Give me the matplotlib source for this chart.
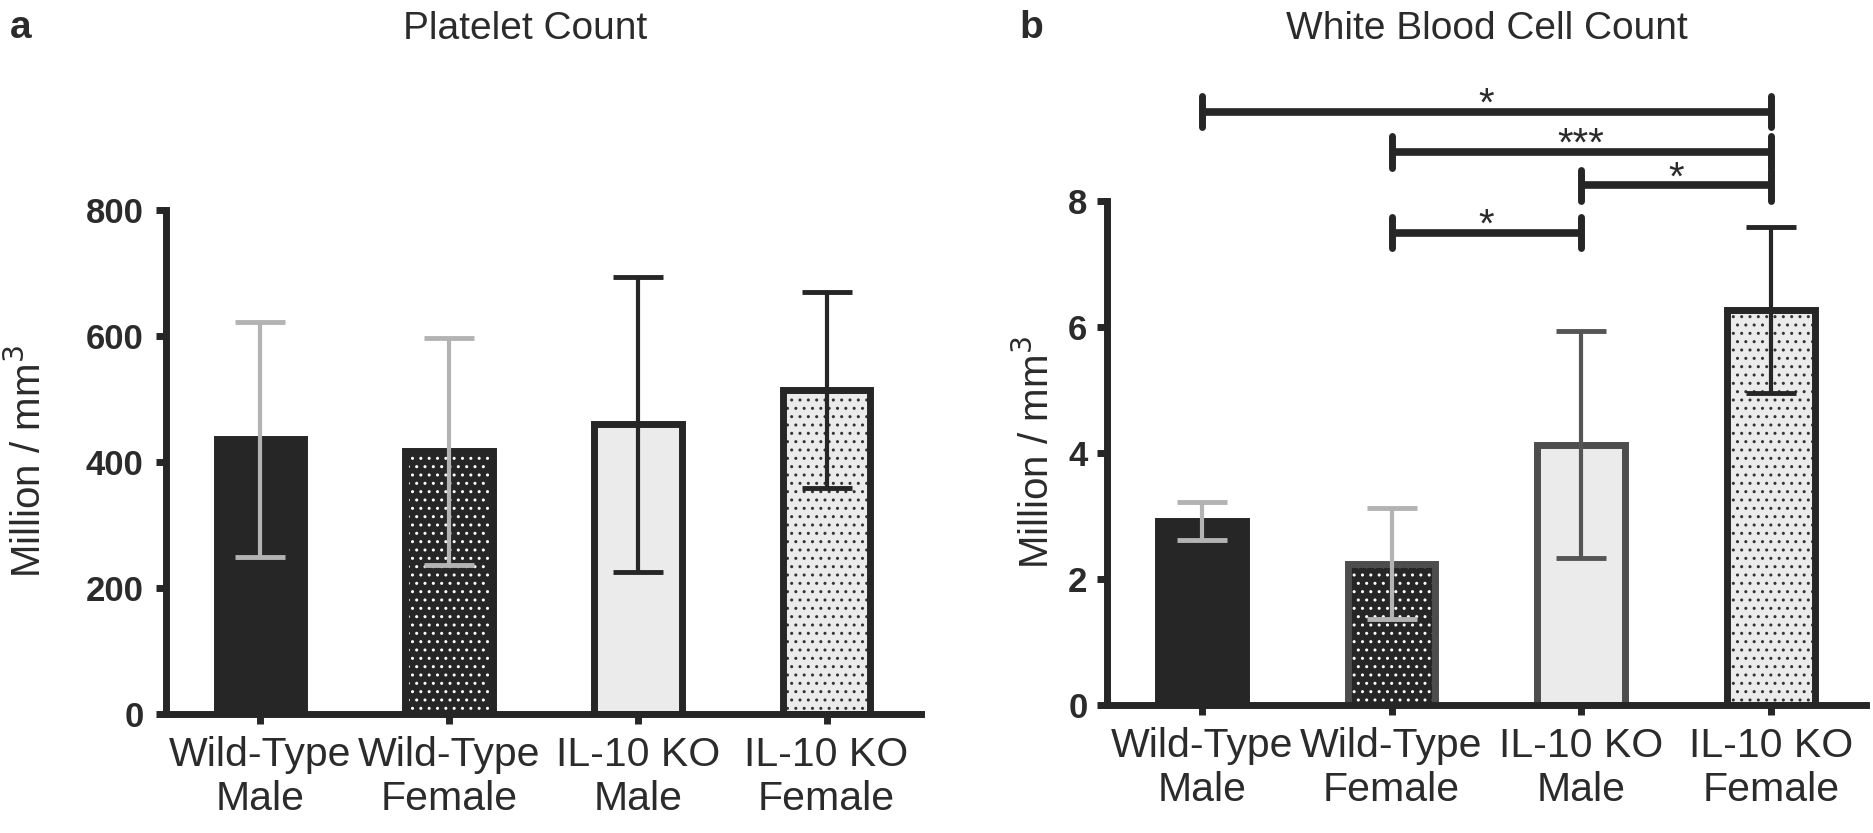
import numpy as np
import matplotlib
matplotlib.use("Agg")
import matplotlib.pyplot as plt

plt.rcParams.update({"font.family": "Liberation Sans", "hatch.linewidth": 1.0,
                     "text.color": "#2b2b2b", "axes.labelcolor": "#2b2b2b"})
INK = "#262626"

# data (mean +/- SD)
groups = ["Wild-Type\nMale", "Wild-Type\nFemale", "IL-10 KO\nMale", "IL-10 KO\nFemale"]
plt_mean = [436, 417, 460, 514]
plt_sd = [187, 180, 234, 156]
wbc_mean = [2.92, 2.24, 4.13, 6.27]
wbc_sd = [0.30, 0.88, 1.80, 1.32]
sig_pairs = [(0, 3), (1, 3), (2, 3), (1, 2)]
sig_y = [9.42, 8.78, 8.25, 7.50]
sig_text = ["*", "***", "*", "*"]

# bar styling (fill, hatch colour, hatch)
fills = [INK, INK, "#ebebeb", "#ebebeb"]
hatch_cols = [INK, "white", "#ebebeb", "#333333"]
hatches = [None, "..", None, ".."]
edges_a = [INK, INK, INK, INK]
edges_b = [INK, "#4d4d4d", "#4d4d4d", INK]
err_a = ["#b3b3b3", "#b3b3b3", INK, INK]
err_b = ["#b3b3b3", "#b3b3b3", "#555555", INK]

fig = plt.figure(figsize=(18.73, 8.33), dpi=100)
axA = fig.add_axes([0.0886, 0.1429, 0.4031, 0.605])
axB = fig.add_axes([0.5910, 0.1537, 0.4052, 0.605])
x = np.arange(len(groups))
W = 0.463


def draw(ax, mean, sd, edges, errc):
    for i in range(len(x)):
        ax.bar(x[i], mean[i], W, color=fills[i], edgecolor=hatch_cols[i],
               linewidth=0, hatch=hatches[i], zorder=1)
        ax.bar(x[i], mean[i], W, facecolor="none", edgecolor=edges[i],
               linewidth=5, zorder=2)
        ax.errorbar(x[i], mean[i], yerr=sd[i], fmt="none", ecolor=errc[i],
                    elinewidth=3, capsize=18, capthick=3.5, zorder=3)
    ax.set_xlim(-0.5, 3.5)
    ax.set_xticks(x)
    ax.set_xticklabels(groups, fontsize=29.5, linespacing=1.2)
    for s in ["top", "right"]:
        ax.spines[s].set_visible(False)
    for s in ["left", "bottom"]:
        ax.spines[s].set_linewidth(5)
        ax.spines[s].set_color(INK)
    ax.tick_params(width=5, length=7, color=INK, labelcolor="#2b2b2b")
    ax.tick_params(axis="x", pad=9)
    ax.set_ylabel("Million / mm$^3$", fontsize=29)


draw(axA, plt_mean, plt_sd, edges_a, err_a)
axA.set_ylim(0, 800)
axA.set_yticks([0, 200, 400, 600, 800])
axA.tick_params(axis="y", labelsize=25, pad=9)
for t in axA.get_yticklabels():
    t.set_fontweight("bold")
axA.yaxis.set_label_coords(-0.155, 0.5)

draw(axB, wbc_mean, wbc_sd, edges_b, err_b)
axB.set_ylim(0, 8)
axB.set_yticks([0, 2, 4, 6, 8])
axB.tick_params(axis="y", labelsize=25, pad=7)
for t in axB.get_yticklabels():
    t.set_fontweight("bold")
axB.yaxis.set_label_coords(-0.066, 0.5)

# significance brackets
for (i, j), yy, s in zip(sig_pairs, sig_y, sig_text):
    axB.plot([x[i], x[j]], [yy, yy], color=INK, lw=5.5, clip_on=False,
             solid_capstyle="butt")
    for k in (i, j):
        axB.plot([x[k], x[k]], [yy - 0.25, yy + 0.25], color=INK, lw=5,
                 clip_on=False, solid_capstyle="round")
    axB.annotate(s, xy=((x[i] + x[j]) / 2, yy), xytext=(0, -3),
                 textcoords="offset points", ha="center", va="baseline",
                 fontsize=29, annotation_clip=False)

# titles and panel letters
fig.text(525 / 1873, 1 - 39 / 833, "Platelet Count", fontsize=28,
         ha="center", va="baseline")
fig.text(1487 / 1873, 1 - 39 / 833, "White Blood Cell Count", fontsize=28,
         ha="center", va="baseline")
fig.text(10 / 1873, 1 - 38 / 833, "a", fontsize=28, fontweight="bold")
fig.text(1019 / 1873, 1 - 38 / 833, "b", fontsize=28, fontweight="bold")

fig.savefig("out.png", dpi=100)
